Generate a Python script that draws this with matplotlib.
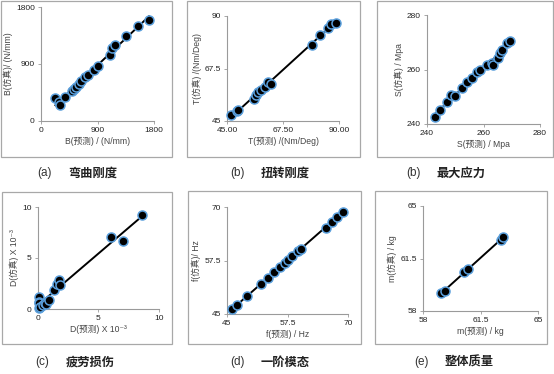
import numpy as np
import matplotlib.pyplot as plt
from matplotlib.patches import Rectangle

# (a) bending stiffness, N/mm
b_pred = [230, 290, 300, 380, 500, 520, 560, 600, 640, 700, 750, 850, 900, 1100, 1130, 1180, 1350, 1550, 1720]
b_sim = [370, 300, 260, 380, 470, 510, 540, 580, 630, 700, 720, 800, 870, 1050, 1150, 1200, 1350, 1500, 1600]
# (b) torsional stiffness, Nm/Deg
t_pred = [46.7, 49.2, 49.4, 55.7, 56.8, 57.5, 58.6, 60.2, 61.3, 62.6, 79.0, 82.3, 85.4, 86.6, 88.8]
t_sim = [47.7, 49.1, 49.6, 54.6, 56.0, 57.4, 58.1, 59.6, 61.7, 61.0, 77.4, 81.7, 85.0, 86.4, 87.0]
# (b) max stress, MPa
s_pred = [242.9, 244.7, 247.1, 248.6, 250.0, 252.4, 254.1, 255.9, 257.6, 258.8, 261.2, 262.9, 263.5, 265.3, 265.9, 266.5, 268.2, 269.4]
s_sim = [242.7, 245.1, 248.1, 250.5, 250.3, 253.1, 255.5, 256.7, 259.2, 259.8, 261.6, 262.3, 261.6, 264.1, 266.0, 267.2, 269.7, 270.6]
# (c) fatigue damage, x10^-3
d_pred = [0.05, 0.05, 0.05, 0.1, 0.2, 0.45, 0.6, 0.7, 0.9, 1.3, 1.6, 1.7, 1.85, 6.05, 7.05, 8.6]
d_sim = [0.07, 1.2, 0.7, 0.55, 0.2, 0.4, 0.55, 0.5, 0.9, 1.9, 2.5, 2.8, 2.4, 7.1, 6.7, 9.2]
# (d) first mode, Hz
f_pred = [46.1, 47.1, 49.2, 52.0, 53.4, 54.7, 55.9, 56.9, 57.6, 58.5, 59.7, 60.2, 65.4, 66.6, 67.8, 69.0]
f_sim = [46.2, 47.1, 49.1, 51.9, 53.5, 54.8, 56.0, 56.9, 57.6, 58.5, 59.8, 60.3, 65.1, 66.6, 67.7, 68.8]
# (e) total mass, kg
m_pred = [59.08, 59.33, 60.51, 60.76, 62.76, 62.9]
m_sim = [59.17, 59.35, 60.57, 60.83, 62.76, 62.94]

W, H = 554, 374
fig = plt.figure(figsize=(W / 100, H / 100), dpi=100)
fig.patch.set_facecolor('white')

lat = ['Liberation Sans', 'Noto Sans CJK SC', 'DejaVu Sans']
cjk = ['Noto Sans CJK SC', 'DejaVu Sans']


def px_axes(l, t, r, b):
    return fig.add_axes([l / W, 1 - b / H, (r - l) / W, (b - t) / H])


def frame(l, t, r, b):
    fig.patches.append(Rectangle((l / W, 1 - b / H), (r - l) / W, (b - t) / H,
                                 transform=fig.transFigure, fill=False,
                                 edgecolor='#a8a8a8', linewidth=0.9))


panels = [
    dict(x=b_pred, y=b_sim, ax=(41, 7, 154, 121), fr=(1, 1, 172, 157), lim=(0, 1800),
         xt=['0', '900', '1800'], yt=['0', '900', '1800'],
         xl='B(预测) / (N/mm)', yl='B(仿真)/ (N/mm)', tag='(a)', cap='弯曲刚度', cp=(37, 173)),
    dict(x=t_pred, y=t_sim, ax=(227, 16, 339, 121), fr=(187, 1, 360, 157), lim=(45, 90),
         xt=['45.00', '67.50', '90.00'], yt=['45', '67.5', '90'],
         xl='T(预测) /(Nm/Deg)', yl='T(仿真) /(Nm/Deg)', tag='(b)', cap='扭转刚度', cp=(230, 173)),
    dict(x=s_pred, y=s_sim, ax=(427, 15, 540, 124), fr=(377, 1, 553, 157), lim=(240, 280),
         xt=['240', '260', '280'], yt=['240', '260', '280'],
         xl='S(预测) / Mpa', yl='S(仿真) / Mpa', tag='(b)', cap='最大应力', cp=(406, 173)),
    dict(x=d_pred, y=d_sim, ax=(38, 207, 159, 309), fr=(2, 192, 172, 344), lim=(0, 10),
         xt=['0', '5', '10'], yt=['0', '5', '10'],
         xl='D(预测) X 10⁻³', yl='D(仿真) X 10⁻³', tag='(c)', cap='疲劳损伤', cp=(35, 362)),
    dict(x=f_pred, y=f_sim, ax=(227, 207, 348, 314), fr=(188, 191, 361, 344), lim=(45, 70),
         xt=['45', '57.5', '70'], yt=['45', '57.5', '70'],
         xl='f(预测) / Hz', yl='f(仿真)/ Hz', tag='(d)', cap='一阶模态', cp=(230, 362)),
    dict(x=m_pred, y=m_sim, ax=(423, 206, 538, 311), fr=(375, 191, 547, 344), lim=(58, 65),
         xt=['58', '61.5', '65'], yt=['58', '61.5', '65'],
         xl='m(预测) / kg', yl='m(仿真) / kg', tag='(e)', cap='整体质量', cp=(414, 362)),
]

for p in panels:
    frame(*p['fr'])
    ax = px_axes(*p['ax'])
    x = np.array(p['x'])
    y = np.array(p['y'])
    lo, hi = p['lim']
    ticks = [lo, (lo + hi) / 2, hi]

    # fitted trend line
    k, c = np.polyfit(x, y, 1)
    xx = np.array([x.min(), x.max()])
    ax.plot(xx, k * xx + c, color='black', lw=1.4, zorder=2)
    ax.scatter(x, y, s=42, c='black', edgecolors='#5a9fdc', linewidths=1.1,
               zorder=3, clip_on=False)

    ax.set_xlim(lo, hi)
    ax.set_ylim(lo, hi)
    ax.set_xticks(ticks)
    ax.set_yticks(ticks)
    ax.set_xticklabels(p['xt'], family=lat, fontsize=6, color='#222222')
    ax.set_yticklabels(p['yt'], family=lat, fontsize=6, color='#222222')
    ax.set_xlabel(p['xl'], family=lat, fontsize=6.2, color='#444444', labelpad=2)
    ax.set_ylabel(p['yl'], family=lat, fontsize=6.2, color='#444444', labelpad=2)
    for s in ['top', 'right']:
        ax.spines[s].set_visible(False)
    for s in ['left', 'bottom']:
        ax.spines[s].set_color('#9a9a9a')
        ax.spines[s].set_linewidth(0.8)
    ax.tick_params(length=2.5, width=0.6, color='#9a9a9a', pad=2)
    ax.set_facecolor('none')

    # caption: tag in plain latin, name in bold CJK
    cx, cy = p['cp']
    fig.text(cx / W, 1 - cy / H, p['tag'], family=lat, fontsize=8.5,
             ha='left', va='center', color='#333333')
    fig.text((cx + 31) / W, 1 - cy / H, p['cap'], family=cjk, fontsize=8.8,
             fontweight='bold', ha='left', va='center', color='#222222')

fig.savefig('out.png', dpi=100, facecolor='white')
